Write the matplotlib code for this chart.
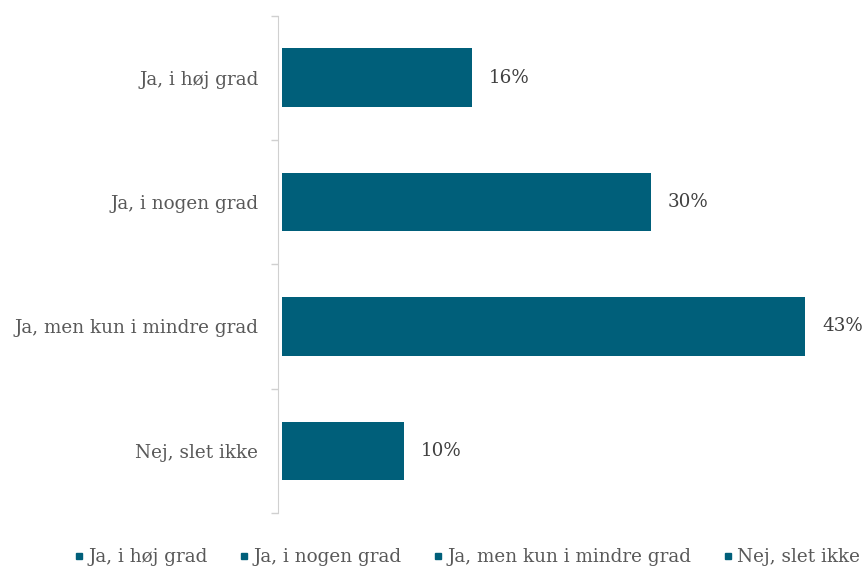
import matplotlib.pyplot as plt
from matplotlib.lines import Line2D

categories = ["Ja, i høj grad", "Ja, i nogen grad", "Ja, men kun i mindre grad", "Nej, slet ikke"]
values = [15.6, 30.3, 43.0, 10.0]
value_labels = ["16%", "30%", "43%", "10%"]

bar_color = "#005f7a"
text_color = "#595959"
fs = 13.2

plt.rcParams['font.family'] = ['DejaVu Serif']

fig = plt.figure(figsize=(8.66, 5.74), dpi=100)
ax = fig.add_axes([282 / 866, 1 - 513 / 574, 1 - 282 / 866, 497.5 / 574])

ypos = list(range(len(categories)))
ax.barh(ypos, values, height=0.47, color=bar_color)
for y, v, lab in zip(ypos, values, value_labels):
    ax.text(v + 1.4, y, lab, va='center', ha='left', fontsize=fs, color="#404040")

ax.set_xlim(0, 48)
ax.set_ylim(len(categories) - 0.5, -0.5)
ax.set_yticks(ypos, labels=categories)
ax.set_yticks([i - 0.5 for i in range(len(categories) + 1)], minor=True)
ax.tick_params(axis='y', which='major', length=0, pad=14, labelsize=fs, labelcolor=text_color)
ax.tick_params(axis='y', which='minor', length=5, color="#d0d0d0", width=1)
ax.set_xticks([])
for s in ['top', 'right', 'bottom']:
    ax.spines[s].set_visible(False)
ax.spines['left'].set_color("#d0d0d0")
ax.spines['left'].set_position(('outward', 3))

handles = [Line2D([], [], marker='s', linestyle='none', markersize=5,
                  color=bar_color) for _ in categories]
fig.legend(handles, categories, loc='lower center', ncol=4, frameon=False,
           bbox_to_anchor=(0.538, -0.015), fontsize=fs, handletextpad=0.1,
           columnspacing=1.6, labelcolor=text_color, handlelength=0.8)

fig.savefig("out.png", dpi=100)
